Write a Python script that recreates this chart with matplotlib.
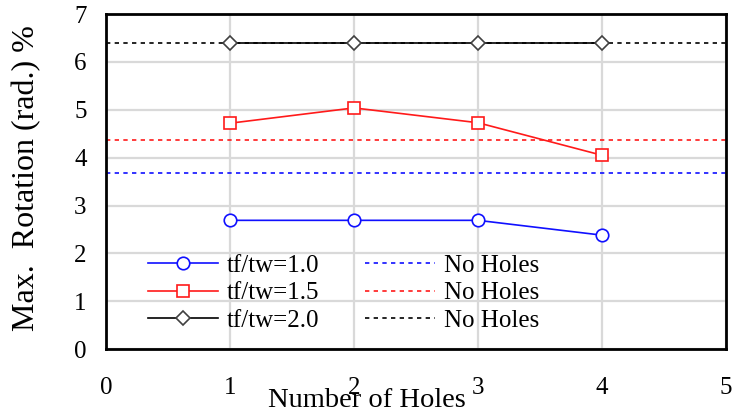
import matplotlib
matplotlib.use("Agg")
import matplotlib.pyplot as plt
from matplotlib.lines import Line2D

plt.rcParams['font.family'] = ['Liberation Serif', 'DejaVu Serif']

holes = [1, 2, 3, 4]
rot_tf10 = [2.69, 2.69, 2.69, 2.38]
rot_tf15 = [4.72, 5.04, 4.73, 4.05]
rot_tf20 = [6.40, 6.40, 6.40, 6.40]
nohole_tf10 = 3.68
nohole_tf15 = 4.37
nohole_tf20 = 6.40

series_labels = ["tf/tw=1.0", "tf/tw=1.5", "tf/tw=2.0"]
ref_label = "No Holes"
x_ticks = [0, 1, 2, 3, 4, 5]
y_ticks = [0, 1, 2, 3, 4, 5, 6, 7]

fig = plt.figure(figsize=(7.32, 4.16), dpi=100)
ax = fig.add_axes([0.1448, 0.161, 0.847, 0.805])

dash = (0, (2.6, 2.6))
colors = ["#1010ff", "#ff1a1a", "black"]
markers = ["o", "s", "D"]
msizes = [9, 8.5, 7]
series = [rot_tf10, rot_tf15, rot_tf20]
refs = [nohole_tf10, nohole_tf15, nohole_tf20]

handles_s, handles_r = [], []
for c, m, ms, ys, r, lab in zip(colors, markers, msizes, series, refs, series_labels):
    ax.axhline(r, color=c, lw=1.2, ls=dash, zorder=2)
    edge = "#404040" if c == "black" else c
    ax.plot(holes, ys, color=c, lw=1.2, marker=m, ms=ms, mfc="white",
            mec=edge, mew=1.2, zorder=3)
    handles_s.append(Line2D([], [], color=c, lw=1.2, marker=m, ms=ms,
                            mfc="white", mec=edge, mew=1.2, label=lab))
    handles_r.append(Line2D([], [], color=c, lw=1.2, ls=dash, label=ref_label))

ax.set_xlim(0, 5)
ax.set_ylim(0, 7)
ax.set_xticks(x_ticks)
ax.set_yticks(y_ticks)
ax.grid(True, color="#d9d9d9", lw=1.6, zorder=0)
ax.set_axisbelow(True)
for s in ax.spines.values():
    s.set_linewidth(2)
    s.set_color("black")
ax.tick_params(axis="both", length=0, labelsize=18)
ax.tick_params(axis="x", pad=20)
ax.tick_params(axis="y", pad=14)

ax.set_xlabel("Number of Holes", fontsize=20.5)
ax.xaxis.set_label_coords(0.42, -0.115)
ax.set_ylabel("Max.  Rotation (rad.) %", fontsize=23)
ax.yaxis.set_label_coords(-0.104, 0.51)

leg = ax.legend(handles=handles_s + handles_r, ncol=2, loc="upper left",
                bbox_to_anchor=(0.068, 0.283), frameon=False, fontsize=18,
                handlelength=2.8, handletextpad=0.36, columnspacing=1.8,
                labelspacing=0.2, borderpad=0, borderaxespad=0)

fig.savefig("out.png", dpi=100)
